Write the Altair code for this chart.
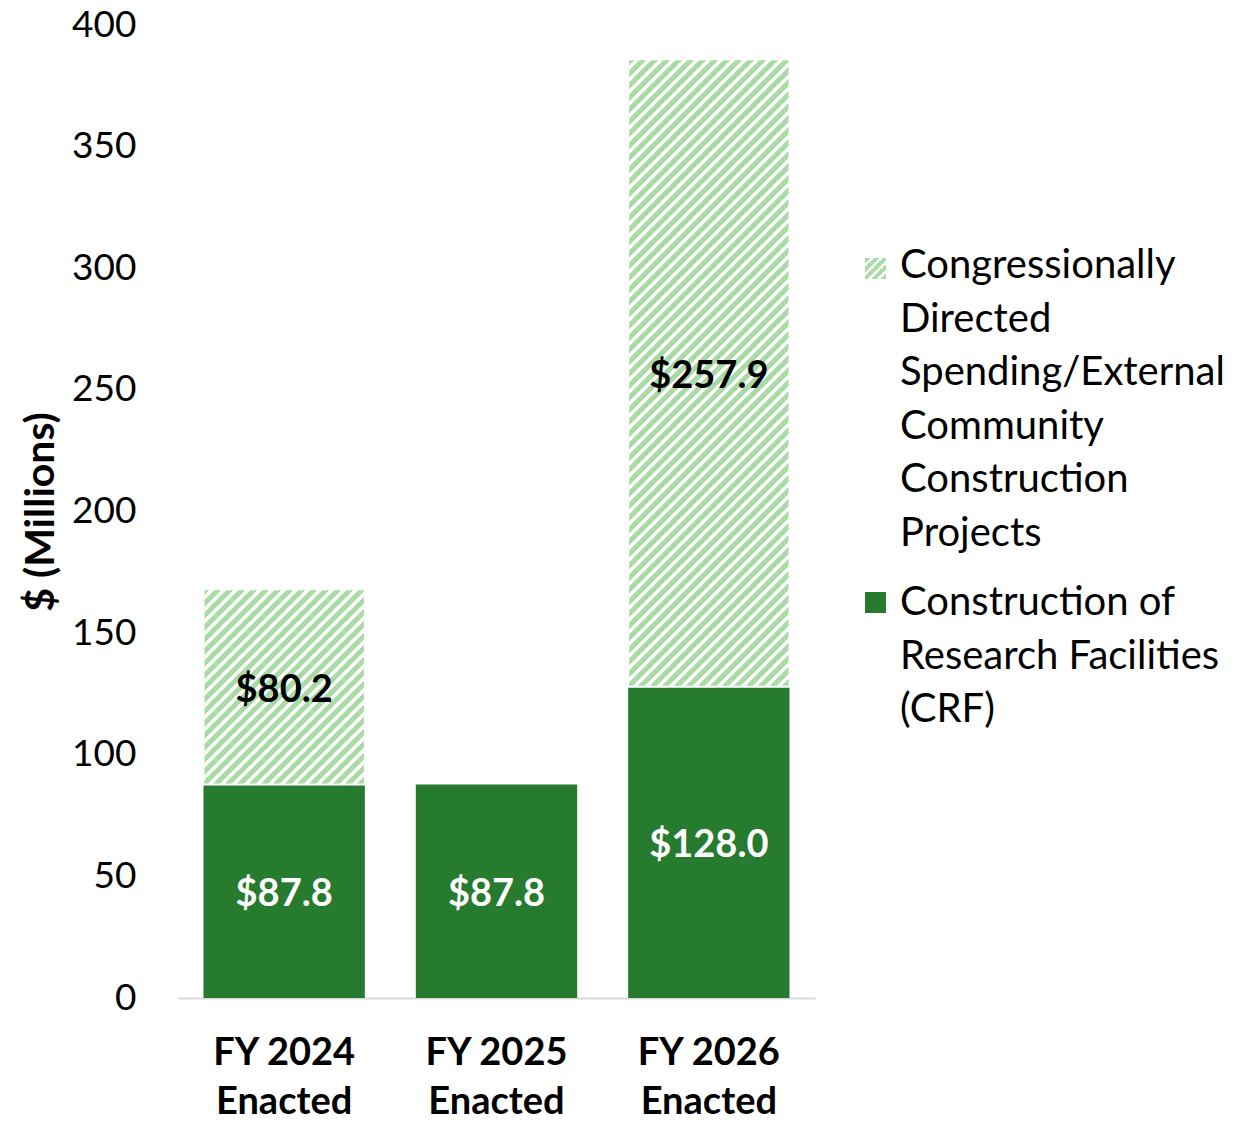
import math
import altair as alt
import pandas as pd

# ---- data ----
years = ["FY 2024 Enacted", "FY 2025 Enacted", "FY 2026 Enacted"]
crf = [87.8, 87.8, 128.0]
cds = [80.2, 0.0, 257.9]
series = [
    "Congressionally Directed Spending/External Community Construction Projects",
    "Construction of Research Facilities (CRF)",
]
y_ticks = [0, 50, 100, 150, 200, 250, 300, 350, 400]

# ---- layout / style ----
FONT = "Lato"
PLOT_W, PLOT_H = 637, 973
Y_MAX = 400
PAD_INNER, PAD_OUTER = 0.24, 0.12
DARK = "#267B2F"
LIGHT = "#A9DBA5"
STRIPE_PERIOD = 12

step = PLOT_W / (len(years) - PAD_INNER + 2 * PAD_OUTER)
bar_w = step * (1 - PAD_INNER)
px_per_unit = PLOT_H / Y_MAX


def hatch(w, h, period=STRIPE_PERIOD, frac=0.56):
    """Linear gradient imitating a '/' diagonal hatch on a w x h box."""
    n = (w + h) / period
    c = (w + h) / (w * w + h * h)
    stops = []
    k = 0
    while k / n < 1:
        a, b, e = k / n, min((k + frac) / n, 1), min((k + 1) / n, 1)
        stops += [
            {"offset": a, "color": LIGHT},
            {"offset": b, "color": LIGHT},
            {"offset": b, "color": "#ffffff"},
            {"offset": e, "color": "#ffffff"},
        ]
        k += 1
    return {"gradient": "linear", "x1": 0, "y1": 0, "x2": c * w, "y2": c * h, "stops": stops}


df = pd.DataFrame({"year": years, "crf": crf, "cds": cds})
df["top"] = df["crf"] + df["cds"]

x_enc = alt.X(
    "year:N",
    sort=years,
    scale=alt.Scale(paddingInner=PAD_INNER, paddingOuter=PAD_OUTER),
    axis=alt.Axis(
        title=None,
        labelAngle=0,
        labelFont=FONT,
        labelFontSize=38,
        labelFontWeight="bold",
        labelColor="#000000",
        labelPadding=36,
        labelLineHeight=49,
        labelExpr="[substring(datum.label, 0, 7), substring(datum.label, 8)]",
        ticks=False,
        domainColor="#D9D9D9",
        domainWidth=2,
    ),
)
y_scale = alt.Scale(domain=[0, Y_MAX], nice=False, zero=True)
y_axis = alt.Axis(
    title="$ (Millions)",
    titleFont=FONT,
    titleFontSize=41,
    titleFontWeight="bold",
    titleColor="#000000",
    titlePadding=9,
    values=y_ticks,
    labelFont=FONT,
    labelFontSize=37,
    labelColor="#000000",
    labelPadding=42,
    ticks=False,
    domain=False,
    grid=False,
)

base = alt.Chart(df)

crf_bars = base.mark_bar(color=DARK).encode(
    x=x_enc, y=alt.Y("crf:Q", scale=y_scale, axis=y_axis)
)

layers = [crf_bars]
for yr, v, c in zip(years, cds, crf):
    if v <= 0:
        continue
    g = hatch(bar_w, v * px_per_unit)
    layers.append(
        base.transform_filter(alt.datum.year == yr)
        .mark_bar(fill=g, stroke="#ffffff", strokeWidth=2)
        .encode(x=alt.X("year:N", sort=years), y=alt.Y("crf:Q", scale=y_scale), y2="top:Q")
    )

crf_text = base.transform_calculate(
    mid="datum.crf / 2", lab="'$' + format(datum.crf, '.1f')"
).mark_text(font=FONT, fontSize=38, fontWeight="bold", color="#ffffff", baseline="middle", dy=4).encode(
    x=alt.X("year:N", sort=years), y=alt.Y("mid:Q", scale=y_scale), text="lab:N"
)
cds_text = base.transform_filter("datum.cds > 0").transform_calculate(
    mid="datum.crf + datum.cds / 2", lab="'$' + format(datum.cds, '.1f')"
).mark_text(font=FONT, fontSize=38, fontWeight="bold", color="#000000", baseline="middle", dy=4).encode(
    x=alt.X("year:N", sort=years), y=alt.Y("mid:Q", scale=y_scale), text="lab:N"
)
layers += [crf_text, cds_text]

# ---- legend (drawn beside the plot) ----
LEG_SQ_X, LEG_SQ = 687, 21
LEG_TX = 722
LEG_ROWS = [233, 567]     # top of swatch, plot coordinates
LEG_TEXT_Y = [221, 558]
LEG_FS = 40
leg_lines = [
    "Congressionally\nDirected\nSpending/External\nCommunity\nConstruction\nProjects",
    "Construction of\nResearch Facilities\n(CRF)",
]
fills = [hatch(LEG_SQ, LEG_SQ, period=9), DARK]
for i, nm in enumerate(series):
    one = alt.Chart(pd.DataFrame({"name": [nm], "txt": [leg_lines[i]]}))
    layers.append(
        one.mark_rect(fill=fills[i]).encode(
            x=alt.value(LEG_SQ_X), x2=alt.value(LEG_SQ_X + LEG_SQ),
            y=alt.value(LEG_ROWS[i]), y2=alt.value(LEG_ROWS[i] + LEG_SQ),
        )
    )
    layers.append(
        one.mark_text(
            font=FONT, fontSize=LEG_FS, align="left", baseline="top",
            lineBreak="\n", lineHeight=53.6, color="#000000",
        ).encode(x=alt.value(LEG_TX), y=alt.value(LEG_TEXT_Y[i]), text="txt:N")
    )

chart = (
    alt.layer(*layers)
    .properties(
        width=PLOT_W,
        height=PLOT_H,
        autosize=alt.AutoSizeParams(type="none"),
        padding={"left": 170, "top": 17, "right": 415, "bottom": 120},
        background="#ffffff",
    )
    .configure_view(stroke=None)
)

chart.save("out.html", embed_options={"renderer": "svg", "actions": False})
